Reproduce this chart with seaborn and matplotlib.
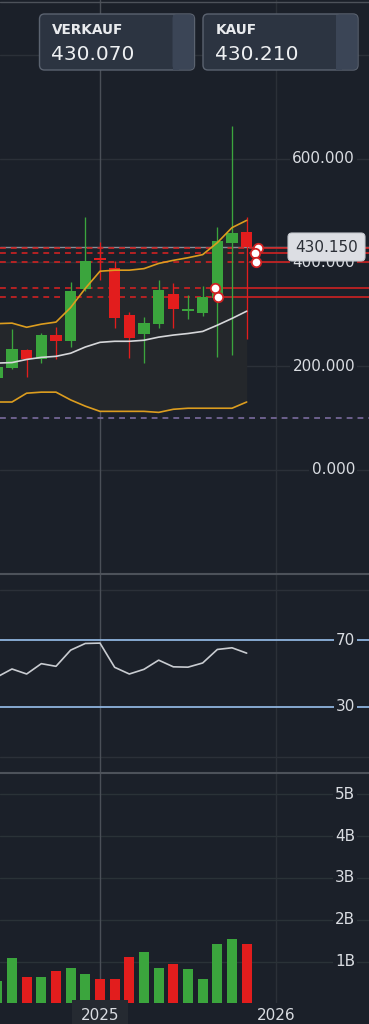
import numpy as np
import pandas as pd
import matplotlib
matplotlib.use("Agg")
import matplotlib.pyplot as plt
from matplotlib.patches import FancyBboxPatch, Rectangle
from matplotlib.transforms import blended_transform_factory
import seaborn as sns

# ---------------- data ----------------
months = ["2024-06", "2024-07", "2024-08", "2024-09", "2024-10", "2024-11", "2024-12",
          "2025-01", "2025-02", "2025-03", "2025-04", "2025-05", "2025-06", "2025-07",
          "2025-08", "2025-09", "2025-10", "2025-11"]
# prices in thousands
opens  = [177, 196, 231, 213, 261, 248, 348, 409, 390, 298, 263, 281, 340, 306, 302, 331, 437, 458]
highs  = [205, 271, 233, 264, 275, 362, 488, 440, 402, 304, 294, 367, 360, 338, 354, 468, 663, 488]
lows   = [170, 194, 179, 207, 213, 237, 345, 366, 273, 215, 207, 273, 273, 290, 296, 218, 221, 252]
closes = [198, 233, 213, 261, 248, 344, 403, 404, 292, 254, 283, 346, 310, 310, 333, 442, 456, 430]

bb_upper  = [282, 283, 275, 281, 285, 313, 350, 383, 385, 385, 388, 398, 404, 409, 415, 438, 467, 481]
bb_middle = [206, 207, 213, 217, 219, 225, 237, 246, 248, 248, 250, 256, 260, 263, 267, 279, 292, 306]
bb_lower  = [131, 131, 148, 150, 150, 135, 123, 113, 113, 113, 113, 111, 117, 119, 119, 119, 119, 131]

rsi = [48, 52.7, 49.7, 55.9, 54.3, 64, 68, 68.2, 53.7, 49.7, 52.5, 58, 54, 53.8, 56.3, 64.4, 65.4, 62.2]

volume_b = [0.53, 1.09, 0.63, 0.63, 0.77, 0.84, 0.69, 0.59, 0.59, 1.11, 1.23, 0.85, 0.95, 0.81,
            0.57, 1.41, 1.55, 1.42]

# order / alert levels (thousands) and where their marker sits (months after Jan 2025)
order_levels = [428, 419, 400, 350, 333]
order_anchor_months = [10.77, 10.57, 10.63, 7.84, 8.04]

current_price = 430.15
sell_price = "430.070"
buy_price = "430.210"
support_level = 100

price_ticks = [0, 200, 400, 600, 800]
price_tick_labels = ["0.000", "200.000", "400.000", "600.000", "800.000"]
vol_ticks = [1, 2, 3, 4, 5]
vol_tick_labels = ["1B", "2B", "3B", "4B", "5B"]
year_ticks = ["2025-01", "2026-01"]
year_labels = ["2025", "2026"]

# ---------------- style ----------------
BG = "#1b2029"
GRID = "#2b3038"
GREEN = "#3ba53d"
RED = "#e21d1d"
LEVEL_RED = "#cf2222"
ORANGE = "#dc9d1f"
MID = "#d6d7da"
TXT = "#d9dce1"

sns.set_theme(style="dark")
plt.rcParams["font.family"] = ["DejaVu Sans"]

W, H = 369, 1024
fig = plt.figure(figsize=(W / 100, H / 100), dpi=100, facecolor=BG)

ref = pd.Period("2025-01", "M")
pos = np.array([(pd.Period(m, "M") - ref).n for m in months], dtype=float)
anchor_x = list(order_anchor_months)
year_x = [(pd.Period(m, "M") - ref).n for m in year_ticks]

X0, X1 = -6.817, 18.34

def px_axes(top, bottom):
    ax = fig.add_axes([0, 1 - bottom / H, 1, (bottom - top) / H])
    ax.set_facecolor(BG)
    ax.set_xlim(X0, X1)
    ax.set_xticks([]); ax.set_yticks([])
    for s in ax.spines.values():
        s.set_visible(False)
    ax.grid(False)
    return ax

ax_p = px_axes(0, 574)
ax_r = px_axes(574, 773)
ax_v = px_axes(773, 1003.3)

ax_p.set_ylim(-200.4, 905.6)
ax_r.set_ylim(-9.6, 109.6)
ax_v.set_ylim(0, 5.51)

o = np.array(opens, float); c = np.array(closes, float)
colors = [GREEN if cc >= oo else RED for oo, cc in zip(o, c)]

# vertical grid lines / crosshair
for ax in (ax_p, ax_r, ax_v):
    ax.axvline(year_x[1], color=GRID, lw=1.0, zorder=0)
    ax.axvline(year_x[0], color="#4a4f57", lw=1.0, zorder=0.5)

# ---------------- price panel ----------------
lab_tr = blended_transform_factory(ax_p.transAxes, ax_p.transData)
for v, lab in zip(price_ticks, price_tick_labels):
    ax_p.axhline(v, color=GRID, lw=1.0, zorder=0)
    ax_p.text(355 / W, v, lab, transform=lab_tr, ha="right", va="center", fontsize=11,
              color=TXT, zorder=20,
              bbox=dict(boxstyle="square,pad=0.15", fc=BG, ec="none"))

ax_p.fill_between(pos, bb_lower, bb_upper, color="#24272b", lw=0, zorder=1)
ax_p.axhline(support_level, color="#7a6b9e", lw=1.2, ls=(0, (3.5, 3)), zorder=1.5)
ax_p.axhline(current_price, color="#8a8e96", lw=1.0, zorder=2)

for lvl, ax_x in zip(order_levels, anchor_x):
    ax_p.hlines(lvl, X0, ax_x, colors=LEVEL_RED, lw=1.2, linestyles=(0, (3.5, 3)), zorder=2.5)
    ax_p.hlines(lvl, ax_x, X1, colors=LEVEL_RED, lw=1.2, zorder=2.5)

ax_p.vlines(pos, lows, highs, colors=colors, lw=0.95, zorder=3)
body_bottom = np.minimum(o, c)
body_h = np.maximum(np.abs(c - o), 3.0)
ax_p.bar(pos, body_h, bottom=body_bottom, width=0.78, color=colors, lw=0, zorder=4)

sns.lineplot(x=pos, y=bb_upper, ax=ax_p, color=ORANGE, lw=1.2, zorder=5)
sns.lineplot(x=pos, y=bb_lower, ax=ax_p, color=ORANGE, lw=1.2, zorder=5)
sns.lineplot(x=pos, y=bb_middle, ax=ax_p, color=MID, lw=1.2, zorder=5)

ax_p.plot(anchor_x, order_levels, "o", ms=6.8, mfc="white", mec=LEVEL_RED, mew=1.3, zorder=8, ls="none")
ax_p.set_xlim(X0, X1); ax_p.set_xlabel(""); ax_p.set_ylabel("")

# ---------------- RSI panel ----------------
rl_tr = blended_transform_factory(ax_r.transAxes, ax_r.transData)
for v in (100, 0):
    ax_r.axhline(v, color=GRID, lw=1.0, zorder=0)
for v in (70, 30):
    ax_r.axhline(v, color="#8fb4de", lw=1.3, zorder=1)
    ax_r.text(355 / W, v, str(v), transform=rl_tr, ha="right", va="center", fontsize=11,
              color=TXT, zorder=20, bbox=dict(boxstyle="square,pad=0.12", fc=BG, ec="none"))
sns.lineplot(x=pos, y=rsi, ax=ax_r, color="#c9ccd1", lw=1.2, zorder=5)
ax_r.set_xlim(X0, X1); ax_r.set_xlabel(""); ax_r.set_ylabel("")

# ---------------- volume panel ----------------
vl_tr = blended_transform_factory(ax_v.transAxes, ax_v.transData)
for v, lab in zip(vol_ticks, vol_tick_labels):
    ax_v.axhline(v, color="#2a3237", lw=1.0, zorder=0)
    ax_v.text(355 / W, v, lab, transform=vl_tr, ha="right", va="center", fontsize=11,
              color=TXT, zorder=20, bbox=dict(boxstyle="square,pad=0.12", fc=BG, ec="none"))
ax_v.bar(pos, volume_b, width=0.68, color=colors, lw=0, zorder=3)
ax_v.set_xlim(X0, X1)

xt = blended_transform_factory(ax_v.transData, fig.transFigure)
for i, (xv, lab) in enumerate(zip(year_x, year_labels)):
    kw = {}
    if i == 0:
        kw["bbox"] = dict(boxstyle="square,pad=0.55", fc="#252a31", ec="none")
    ax_v.text(xv, 1 - 1016 / H, lab, transform=xt, ha="center", va="center",
              fontsize=11, color=TXT, clip_on=False, **kw)

# ---------------- overlay (pixel coords) ----------------
ov = fig.add_axes([0, 0, 1, 1], zorder=10)
ov.set_xlim(0, W); ov.set_ylim(H, 0); ov.axis("off"); ov.patch.set_alpha(0)

for y in (2, 574, 773):
    ov.plot([0, W], [y, y], color="#4d525a", lw=1.5 if y != 2 else 1.0)

def header_box(x, title, value):
    box = FancyBboxPatch((x, 14), 155, 56, boxstyle="round,pad=0,rounding_size=5",
                         fc="#2c3441", ec="#5b6370", lw=1.0)
    ov.add_patch(box)
    strip = FancyBboxPatch((x + 133, 14.5), 21.5, 55, boxstyle="round,pad=0,rounding_size=4",
                           fc="#3b4556", ec="none")
    ov.add_patch(strip)
    ov.add_patch(Rectangle((x + 133, 14.5), 6, 55, fc="#3b4556", ec="none"))
    ov.text(x + 12.5, 30.5, title, fontsize=9.8, fontweight="bold", color="#e9ebee",
            ha="left", va="center")
    ov.text(x + 12, 55, value, fontsize=14.5, color="#eef0f2", ha="left", va="center")

header_box(39.5, "VERKAUF", sell_price)
header_box(203, "KAUF", buy_price)

# current price label
ov.add_patch(FancyBboxPatch((288, 233), 77, 28, boxstyle="round,pad=0,rounding_size=4",
                            fc="#dcdee3", ec="#c4c7cd", lw=0.8))
ov.text(326.5, 247.5, f"{current_price:.3f}", fontsize=11, color="#2b2f36", ha="center", va="center")

fig.savefig("out.png", dpi=100, facecolor=BG)
